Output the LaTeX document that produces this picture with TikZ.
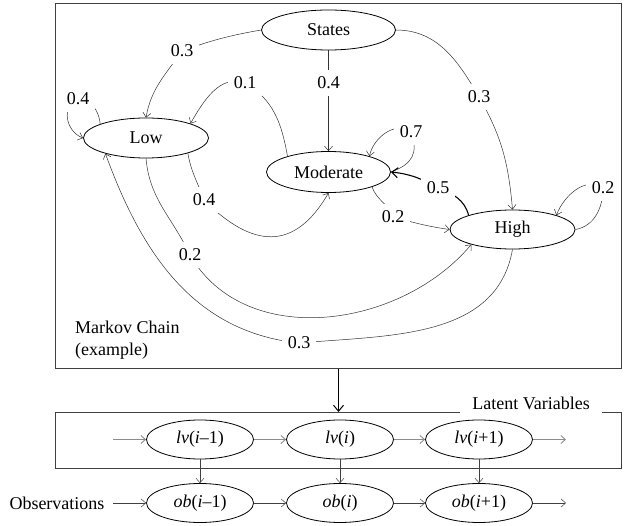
\documentclass[tikz,border=0pt]{standalone}
\usepackage{fontspec}
\setmainfont{Liberation Serif}
\usetikzlibrary{arrows.meta,shapes.geometric}
\begin{document}
\begin{tikzpicture}[x=1pt,y=1pt,
  font=\fontsize{18}{22}\selectfont,
  st/.style={ellipse,draw=black,line width=0.8pt,inner sep=0pt},
  edge/.style={draw=black!80,line width=0.5pt,-{Straight Barb[length=4.5pt,width=8pt]}},
  thickedge/.style={draw=black,line width=1.1pt,-{Straight Barb[length=6pt,width=10pt]}},
  lbl/.style={fill=white,inner xsep=6pt,inner ysep=7pt},
  frame/.style={draw=black!75,line width=1pt,inner sep=0pt},
  lvedge/.style={draw=black!45,line width=0.9pt,-{Straight Barb[length=4.5pt,width=8pt]}},
  obedge/.style={draw=black!75,line width=0.5pt,-{Straight Barb[length=4.5pt,width=8pt]}},
]
\useasboundingbox (0,0) rectangle (626,525);
% frames
\node[frame,minimum width=566pt,minimum height=364pt] (mcframe) at (338.5,339) {};
\node[frame,minimum width=566pt,minimum height=56pt] (lvframe) at (338.5,84.5) {};
\node[fill=white,inner xsep=12pt,inner ysep=5pt] (lvlabel) at (531,122) {Latent Variables};
\node[align=left,anchor=west,inner sep=0pt] (mctext) at (75,184.5) {Markov Chain\\(example)};
% states
\node[st,minimum width=134pt,minimum height=40pt] (states) at (328.5,495) {States};
\node[st,minimum width=125pt,minimum height=40pt] (low) at (146,387) {Low};
\node[st,minimum width=124pt,minimum height=41pt] (mod) at (328.5,353) {Moderate};
\node[st,minimum width=125pt,minimum height=39pt] (high) at (512.5,295.5) {High};
% edges
\draw[edge] (states.west) to[out=190,in=20] (182,474) node[lbl] {0.3} to[out=-125,in=80] (low.north);
\draw[edge] (states.south) -- node[lbl,pos=0.325] {0.4} (mod.north);
\draw[edge] (states.east) to[out=0,in=120] (479,428) node[lbl] {0.3} to[out=-60,in=95] (high.north);
\draw[edge] (mod.159) to[out=100,in=-30] (245,442) node[lbl] {0.1} to[out=160,in=60] (low.18);
\draw[edge] (low.163) to[out=95,in=0] (78,426) node[lbl] {0.4} to[out=200,in=160,looseness=1.2] (low.west);
\draw[edge] (low.-20) to[out=-80,in=110] (204,325) node[lbl] {0.4} to[out=-45,in=-120,looseness=1.4] (mod.south);
\draw[edge] (low.south) to[out=-85,in=115] (190,270) node[lbl] {0.2} to[out=-60,in=-130] (high.200);
\draw[edge] (high.south) to[out=-100,in=5] (299,182) node[lbl] {0.3} to[out=174,in=-70] (low.201);
\draw[edge] (mod.east) to[out=20,in=-70,looseness=1.3] (411,393) node[lbl] {0.7} to[out=140,in=80] (mod.21);
\draw[thickedge] (high.162) to[out=105,in=-20] (438,337) node[lbl] {0.5} to[out=150,in=-6] (mod.east);
\draw[edge] (mod.-19) to[out=-70,in=110] (393,308) node[lbl] {0.2} to[out=-15,in=172] (high.west);
\draw[edge] (high.east) to[out=10,in=-90] (603,337) node[lbl] {0.2} to[out=145,in=69] (high.18);
% link
\draw[draw=black,line width=1pt,-{Straight Barb[length=6pt,width=10pt]}] (mcframe.south) -- (lvframe.north);
% bottom chain
\node[st,minimum width=107pt,minimum height=39pt] (lv1) at (200,85.5) {\textit{lv}(\textit{i}–1)};
\node[st,minimum width=107pt,minimum height=39pt] (lv2) at (340,85.5) {\textit{lv}(\textit{i})};
\node[st,minimum width=107pt,minimum height=39pt] (lv3) at (479,85.5) {\textit{lv}(\textit{i}+1)};
\node[st,minimum width=107pt,minimum height=39pt] (ob1) at (200,22) {\textit{ob}(\textit{i}–1)};
\node[st,minimum width=107pt,minimum height=39pt] (ob2) at (340,22) {\textit{ob}(\textit{i})};
\node[st,minimum width=107pt,minimum height=39pt] (ob3) at (479,22) {\textit{ob}(\textit{i}+1)};
\node (obs) at (57,22) {Observations};
\coordinate (lvin) at (113,85.5);
\coordinate (lvout) at (566,85.5);
\coordinate (obout) at (566,22);
\draw[lvedge] (lvin) -- (lv1.west);
\draw[lvedge] (lv1.east) -- (lv2.west);
\draw[lvedge] (lv2.east) -- (lv3.west);
\draw[lvedge] (lv3.east) -- (lvout);
\draw[obedge] (obs.east) ++(5pt,0) -- (ob1.west);
\draw[obedge] (ob1.east) -- (ob2.west);
\draw[obedge] (ob2.east) -- (ob3.west);
\draw[obedge] (ob3.east) -- (obout);
\draw[obedge] (lv1.south) -- (ob1.north);
\draw[obedge] (lv2.south) -- (ob2.north);
\draw[obedge] (lv3.south) -- (ob3.north);
\end{tikzpicture}
\end{document}
